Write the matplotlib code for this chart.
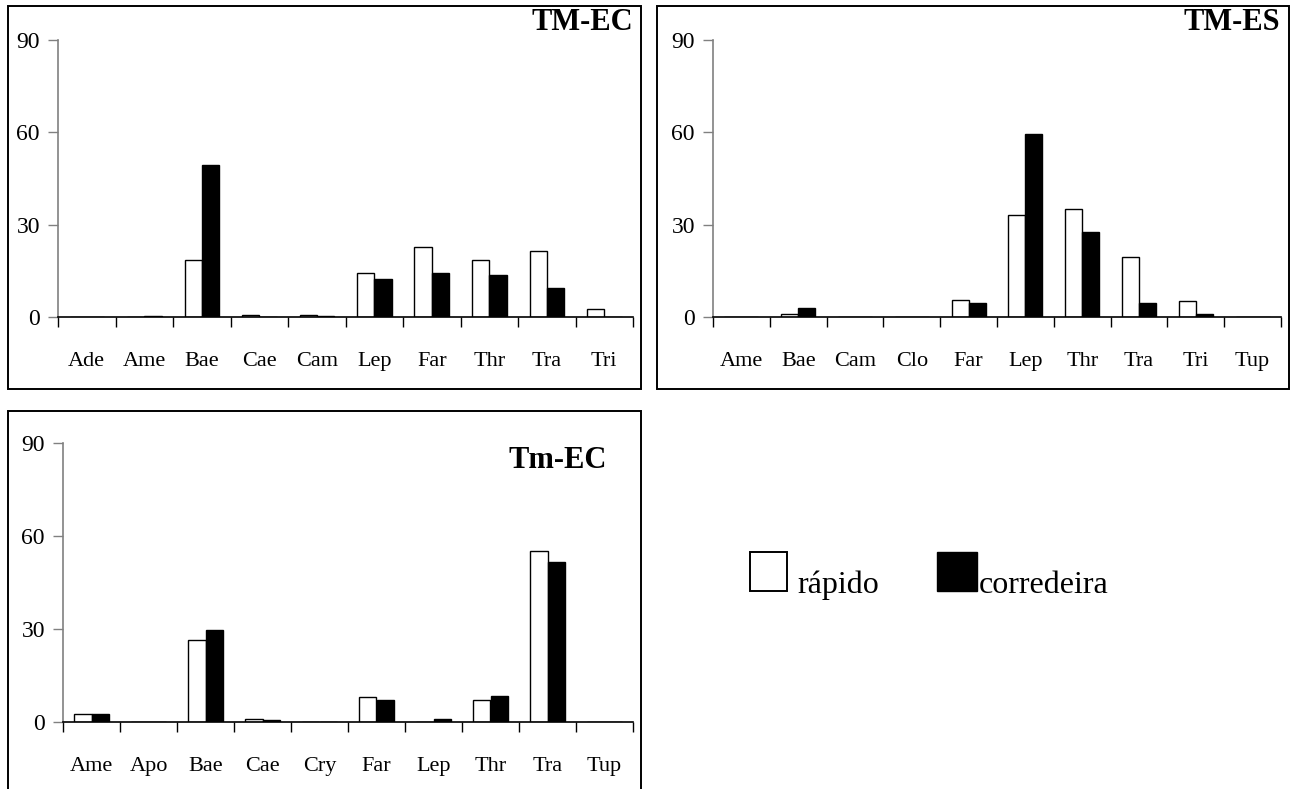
import matplotlib
matplotlib.use("Agg")
import matplotlib.pyplot as plt
from matplotlib.patches import Rectangle
import numpy as np

plt.rcParams['font.family'] = ['Liberation Serif', 'DejaVu Serif']

W, H = 1296, 789

# ---- data ----
cats1 = ["Ade", "Ame", "Bae", "Cae", "Cam", "Lep", "Far", "Thr", "Tra", "Tri"]
rapido1 = [0, 0, 18.6, 0.6, 0.6, 14.3, 22.7, 18.6, 21.3, 2.6]
corred1 = [0, 0.3, 49.5, 0, 0.3, 12.3, 14.3, 13.6, 9.3, 0]

cats2 = ["Ame", "Bae", "Cam", "Clo", "Far", "Lep", "Thr", "Tra", "Tri", "Tup"]
rapido2 = [0, 1.1, 0, 0, 5.6, 33.2, 35.2, 19.6, 5.3, 0]
corred2 = [0, 3.0, 0, 0, 4.4, 59.5, 27.7, 4.6, 1.1, 0]

cats3 = ["Ame", "Apo", "Bae", "Cae", "Cry", "Far", "Lep", "Thr", "Tra", "Tup"]
rapido3 = [2.6, 0, 26.6, 0.9, 0, 8.1, 0, 7.1, 55.3, 0]
corred3 = [2.6, 0, 29.7, 0.5, 0, 7.1, 0.9, 8.5, 51.5, 0]

yticks = [0, 30, 60, 90]
titles = ["TM-EC", "TM-ES", "Tm-EC"]
legend_labels = ["rápido", "corredeira"]

fig = plt.figure(figsize=(W / 100, H / 100), dpi=100)

def fx(x):
    return x / W

def fy(y):
    return 1 - y / H

def add_axes(x0, x1, y90, y0):
    return fig.add_axes([fx(x0), fy(y0), fx(x1) - fx(x0), fy(y90) - fy(y0)])

panels = [
    dict(ax=(58, 633, 40, 317), box=(8, 6, 641, 389), cats=cats1, r=rapido1, c=corred1,
         title=titles[0], tpos=(633, 23)),
    dict(ax=(713, 1281, 40, 317), box=(657, 6, 1289, 389), cats=cats2, r=rapido2, c=corred2,
         title=titles[1], tpos=(1280, 23)),
    dict(ax=(63, 633, 443, 722), box=(8, 411, 641, 800), cats=cats3, r=rapido3, c=corred3,
         title=titles[2], tpos=(607, 460)),
]

bw = 0.3
for p in panels:
    bx0, by0, bx1, by1 = p['box']
    fig.patches.append(Rectangle((fx(bx0), fy(by1)), fx(bx1) - fx(bx0), fy(by0) - fy(by1),
                                 transform=fig.transFigure, fill=False, edgecolor='black',
                                 linewidth=1.4, zorder=0))
    ax = add_axes(*p['ax'])
    n = len(p['cats'])
    x = np.arange(n) + 0.5
    ax.bar(x - bw / 2, p['r'], width=bw, color='white', edgecolor='black', linewidth=1.0)
    ax.bar(x + bw / 2, p['c'], width=bw, color='black', edgecolor='black', linewidth=1.0)
    ax.set_xlim(0, n)
    ax.set_ylim(0, 90)
    ax.set_yticks(yticks)
    ax.set_yticklabels([str(v) for v in yticks], fontsize=17)
    ax.set_xticks(np.arange(n + 1))
    ax.set_xticklabels([])
    ax.set_xticks(x, minor=True)
    ax.set_xticklabels(p['cats'], minor=True, fontsize=16)
    ax.tick_params(axis='x', which='major', direction='out', length=7, width=1.0, color='black')
    ax.tick_params(axis='x', which='minor', length=0, pad=25)
    ax.tick_params(axis='y', direction='out', length=7, width=1.0, color='#808080', pad=6)
    for s in ['top', 'right']:
        ax.spines[s].set_visible(False)
    ax.spines['left'].set_color('#808080')
    ax.spines['left'].set_linewidth(1.2)
    ax.spines['bottom'].set_color('black')
    ax.spines['bottom'].set_linewidth(1.2)
    ax.patch.set_alpha(0)
    fig.text(fx(p['tpos'][0]), fy(p['tpos'][1]), p['title'], ha='right', va='center',
             fontsize=22, fontweight='bold')

# legend (drawn manually, as in the reference)
fig.patches.append(Rectangle((fx(750), fy(591)), fx(787) - fx(750), fy(552) - fy(591),
                             transform=fig.transFigure, facecolor='white', edgecolor='black',
                             linewidth=1.4))
fig.patches.append(Rectangle((fx(937), fy(591)), fx(977) - fx(937), fy(552) - fy(591),
                             transform=fig.transFigure, facecolor='black', edgecolor='black',
                             linewidth=1.0))
fig.text(fx(797), fy(593), legend_labels[0], ha='left', va='baseline', fontsize=23)
fig.text(fx(979), fy(593), legend_labels[1], ha='left', va='baseline', fontsize=23)

fig.savefig("out.png", dpi=100, facecolor='white')
